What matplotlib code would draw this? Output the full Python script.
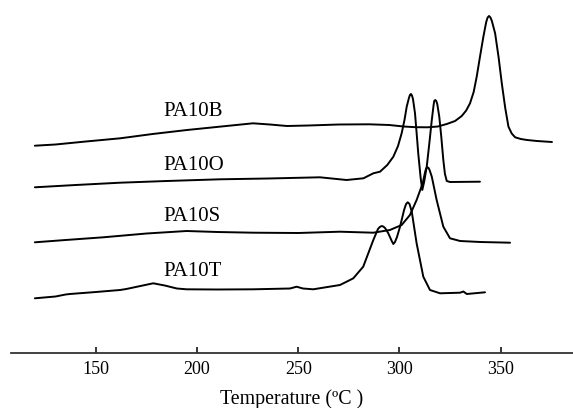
import matplotlib
matplotlib.use("Agg")
import matplotlib.pyplot as plt

plt.rcParams['font.family'] = ['Liberation Serif', 'DejaVu Serif']

# Heat flow (arbitrary units, endo up)
b_T = [119.8, 130, 145, 162, 178, 195, 212, 227.6, 236, 244.4, 255, 270, 285, 295, 302, 308,
       314, 319, 323.4, 327.5, 330.8, 333, 334.9, 336.7, 338.2, 339.8, 341.5, 342.9, 343.6,
       344.3, 345, 345.7, 347.3, 349, 350.6, 352.3, 353.9, 355.5, 357.2, 360, 363.1, 368, 375.4]
b_v = [145.7, 144.5, 141.5, 138.3, 134, 130, 126.5, 123.3, 124.5, 126, 125.5, 124.5, 124.3,
       125, 126.5, 127.2, 127.3, 126.5, 124, 121, 116, 110.5, 103.3, 92, 76.7, 57, 36.7, 22,
       17.5, 16, 17.5, 21, 33.3, 57, 83.3, 108, 126.7, 133.5, 137.3, 139, 140, 141, 142]

o_T = [119.8, 140, 161.9, 185, 211.3, 235, 260.7, 273.9, 282.2, 287.1, 290.4, 294, 297, 299.3,
       301.1, 302.5, 303.6, 304.7, 305.2, 305.7, 306.2, 306.7, 307.7, 308.5, 309.3, 310.5,
       311.3, 312.2, 313.5, 314.8, 316, 316.9, 317.2, 317.7, 318.2, 318.7, 319.7, 320.7,
       321.7, 322.5, 323.4, 325, 339.8]
o_v = [187.3, 185, 182.7, 181, 179.3, 178.5, 177.3, 180, 178.3, 173.3, 171.7, 165, 156.7, 146,
       133.3, 120, 106.7, 98, 95, 94, 95.5, 99, 113.3, 133, 153.3, 178, 190, 182, 166.7, 143,
       120, 105, 101, 100, 101, 104, 116.7, 137, 160, 174, 181, 182, 181.7]

s_T = [119.8, 135, 153.6, 175, 194.8, 210, 227.8, 250, 270.6, 287.1, 295.3, 301.1, 305.2,
       308.5, 311.5, 312.7, 313.2, 313.8, 314.4, 314.9, 316, 318.4, 321.7, 325, 330, 340,
       354.7]
s_v = [242.3, 240, 237.3, 233.5, 231, 232, 232.7, 233, 231.7, 232.7, 230, 225, 215, 200,
       183.3, 172, 168.5, 167.3, 168, 170, 176.7, 200, 226.7, 238.3, 241, 242, 242.7]

t_T = [119.8, 130, 135, 137.1, 150, 161.9, 165, 172, 178.3, 184, 190, 194.8, 210, 227.8,
       245.9, 249.2, 252.3, 257.4, 270.6, 273.9, 277.2, 282.1, 287.1, 289.4, 290.3, 291.2,
       292, 292.9, 294.5, 296.2, 297, 297.8, 298.8, 300.3, 302.3, 303.3, 304.1, 305, 306.1,
       308.5, 311.8, 315.1, 320.1, 330, 331.6, 333.3, 342.3]
t_v = [298.3, 296.5, 294.5, 294, 292, 290, 289, 286, 283.3, 285.5, 288.5, 289.3, 289.5, 289.3,
       288.5, 286.7, 288.5, 289.3, 285, 281.7, 278.3, 266.7, 240, 229, 227, 226, 226.5, 228,
       233.3, 241, 244, 242, 237, 226.7, 210, 204, 202.3, 204, 211.7, 243.3, 276.7, 290,
       293.3, 292.7, 291.5, 294, 292.3]

names = ['PA10B', 'PA10O', 'PA10S', 'PA10T']
label_T = [183.1, 183.1, 183.1, 183.1]
label_v = [241.5, 186.7, 136.0, 81.0]

xticks = [150, 200, 250, 300, 350]

fig = plt.figure(figsize=(5.73, 4.08), dpi=100)
ax = fig.add_axes([11 / 573, 1 - 352.7 / 408, 1 - 11 / 573, 352.7 / 408])

curves = [(b_T, b_v), (o_T, o_v), (s_T, s_v), (t_T, t_v)]
for T, v in curves:
    ax.plot(T, [352.7 - p for p in v], color='black', lw=1.4,
            solid_joinstyle='round', solid_capstyle='round')

for n, x, y in zip(names, label_T, label_v):
    ax.text(x, y, n, fontsize=15, ha='left', va='center')

ax.set_xlim(108, 385.8)
ax.set_ylim(0, 352.7)
ax.set_xticks(xticks)
ax.set_yticks([])
for s in ['top', 'right', 'left']:
    ax.spines[s].set_visible(False)
ax.spines['bottom'].set_linewidth(1.3)
ax.spines['bottom'].set_color('#333333')
ax.tick_params(axis='x', direction='in', length=4, width=1.1, labelsize=13, pad=6)
ax.set_xlabel('Temperature (ºC )', fontsize=14.3, labelpad=8)

fig.savefig('out.png', dpi=100)
